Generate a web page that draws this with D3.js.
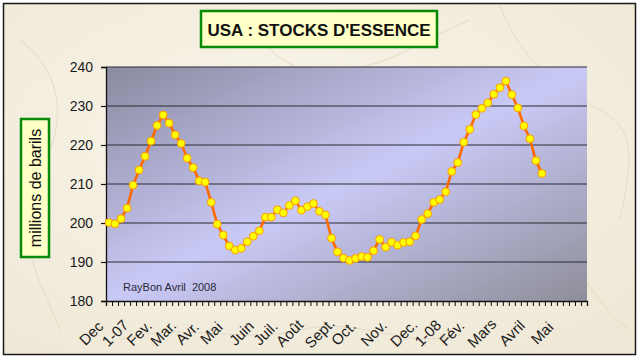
<!DOCTYPE html>
<html><head><meta charset="utf-8">
<script src="https://cdn.jsdelivr.net/npm/d3@7/dist/d3.min.js"></script>
<style>html,body{margin:0;padding:0;background:#fff}svg{display:block}</style>
</head><body>
<svg id="chart" width="640" height="360"></svg>
<script>
// ---- data ----
const title = "USA : STOCKS D'ESSENCE";
const yTitle = "millions de barils";
const note = "RayBon Avril  2008";
// weekly gasoline stocks (million barrels), one value per week category
const stocks = [
  200.1, 199.8, 201.1, 203.8, 209.7, 213.6, 217.1, 221.0, 225.0, 227.7,
  225.6, 222.6, 220.4, 216.6, 214.2, 210.8, 210.5, 205.3, 199.7, 196.9,
  194.1, 193.1, 193.5, 195.2, 196.6, 198.0, 201.5, 201.5, 203.4, 202.6,
  204.5, 205.7, 203.3, 204.2, 205.0, 203.0, 202.1, 196.1, 192.6, 191.0,
  190.4, 190.9, 191.4, 191.2, 192.9, 195.8, 193.8, 195.1, 194.3, 195.0,
  195.2, 196.7, 200.9, 202.4, 205.3, 206.0, 208.0, 213.2, 215.5, 220.7,
  224.0, 227.8, 229.4, 230.8, 233.0, 234.7, 236.4, 232.9, 229.5, 224.9,
  221.6, 216.0, 212.7
];
const monthLabels = ["Dec","1-07","Fev.","Mar.","Avr.","Mai","Juin","Juil.","Août","Sept.",
  "Oct.","Nov.","Dec.","1-08","Fév.","Mars","Avril","Mai"];
// week category that carries each month label
const monthLabelWeek = [0, 4, 8, 12, 16, 20, 25, 29, 33, 38, 42, 47, 52, 56, 60, 65, 70, 75];
const yTicks = [180, 190, 200, 210, 220, 230, 240];
const weekCount = 80;

// ---- layout ----
const svg = d3.select("#chart");
const W = 640, H = 360;
const plot = {left: 106, right: 587, top: 67, bottom: 301};
const FONT = "Liberation Sans, Arial, sans-serif";

const weeks = d3.range(weekCount);
const x = d3.scaleBand().domain(weeks).range([plot.left, plot.right]).padding(0);
const xc = k => x(k) + x.bandwidth() / 2;
const y = d3.scaleLinear().domain([180, 240]).range([plot.bottom, plot.top]);

const defs = svg.append("defs");
const bg = defs.append("radialGradient").attr("id", "marble").attr("cx", "45%").attr("cy", "40%").attr("r", "75%");
bg.append("stop").attr("offset", "0%").attr("stop-color", "#f8f5ea");
bg.append("stop").attr("offset", "100%").attr("stop-color", "#efe8d6");
const pg = defs.append("linearGradient").attr("id", "plotbg")
  .attr("x1", "0").attr("y1", "0").attr("x2", "1").attr("y2", "1");
pg.append("stop").attr("offset", "0%").attr("stop-color", "#8a8aa0");
pg.append("stop").attr("offset", "50%").attr("stop-color", "#c9c9f6");
pg.append("stop").attr("offset", "100%").attr("stop-color", "#8e8e9a");

// page background + frame
svg.append("rect").attr("x", 0).attr("y", 0).attr("width", W).attr("height", H).attr("fill", "#fff");
svg.append("rect").attr("x", 3.5).attr("y", 3.5).attr("width", 632).attr("height", 351)
  .attr("fill", "url(#marble)").attr("stroke", "#1a1a1a").attr("stroke-width", 1.5);

// faint marble veins (decorative)
const veins = [
  "M20,40 C60,70 70,120 40,170 S30,260 60,330",
  "M240,10 C270,60 300,80 350,70 S420,40 470,20",
  "M500,5 C520,60 560,90 600,110 S630,170 620,220",
  "M560,250 C590,280 600,310 630,330",
  "M120,340 C180,320 240,345 300,330 S400,350 460,335"
];
svg.append("g").selectAll("path").data(veins).join("path")
  .attr("d", d => d).attr("fill", "none").attr("stroke", "#e4dbc4").attr("stroke-width", 1);

// plot area
svg.append("rect").attr("x", plot.left).attr("y", plot.top)
  .attr("width", plot.right - plot.left).attr("height", plot.bottom - plot.top)
  .attr("fill", "url(#plotbg)");

// gridlines
svg.append("g").selectAll("line").data(yTicks.filter(v => v > 180)).join("line")
  .attr("x1", plot.left).attr("x2", plot.right)
  .attr("y1", d => y(d)).attr("y2", d => y(d))
  .attr("stroke", "#2a2a35").attr("stroke-width", 1.2);

// y axis
const yAxis = svg.append("g").attr("transform", `translate(${plot.left},0)`)
  .call(d3.axisLeft(y).tickValues(yTicks).tickSize(5).tickPadding(8));
yAxis.select(".domain").attr("stroke", "#111").attr("stroke-width", 1.3);
yAxis.selectAll(".tick line").attr("stroke", "#111").attr("stroke-width", 1.2);
yAxis.selectAll("text").attr("font-family", FONT).attr("font-size", 14).attr("fill", "#1a1a1a");

// x axis: tick marks between week categories
const edgeScale = d3.scaleLinear().domain([0, weekCount]).range([plot.left, plot.right]);
const xAxis = svg.append("g").attr("transform", `translate(0,${plot.bottom})`)
  .call(d3.axisBottom(edgeScale).tickValues(d3.range(weekCount + 1)).tickSize(5).tickFormat(""));
xAxis.select(".domain").attr("stroke", "#111").attr("stroke-width", 1.3);
xAxis.selectAll(".tick line").attr("stroke", "#111").attr("stroke-width", 1);

// month labels
svg.append("g").selectAll("text").data(monthLabels).join("text")
  .attr("transform", (d, i) => `translate(${xc(monthLabelWeek[i]) - 17},${plot.bottom + 33}) rotate(-45)`)
  .attr("text-anchor", "middle").attr("dominant-baseline", "middle")
  .attr("font-family", FONT).attr("font-size", 15)
  .attr("fill", "#1a1a1a").text(d => d);

// series line + markers
const line = d3.line().x((d, i) => xc(i)).y(d => y(d));
svg.append("path").datum(stocks).attr("d", line)
  .attr("fill", "none").attr("stroke", "#ff6a00").attr("stroke-width", 2.6)
  .attr("stroke-linejoin", "round");
svg.append("g").selectAll("circle").data(stocks).join("circle")
  .attr("cx", (d, i) => xc(i)).attr("cy", d => y(d)).attr("r", 3.9)
  .attr("fill", "#ffff00").attr("stroke", "#ff9a00").attr("stroke-width", 1);

// note
svg.append("text").attr("x", 123).attr("y", 291).style("white-space", "pre")
  .attr("font-family", FONT).attr("font-size", 11)
  .attr("fill", "#2a2a3a").text(note);

// title box
svg.append("rect").attr("x", 201).attr("y", 11).attr("width", 236).attr("height", 36)
  .attr("fill", "#ffffc8").attr("stroke", "#078a07").attr("stroke-width", 2.5);
svg.append("text").attr("x", 319).attr("y", 35.5).attr("text-anchor", "middle")
  .attr("font-family", FONT).attr("font-size", 17)
  .attr("font-weight", "bold").attr("fill", "#111").text(title);

// y title box
svg.append("rect").attr("x", 21).attr("y", 119).attr("width", 28).attr("height", 138)
  .attr("fill", "#ffffc8").attr("stroke", "#078a07").attr("stroke-width", 2.5);
svg.append("text").attr("transform", "translate(40.5,188) rotate(-90)")
  .attr("text-anchor", "middle")
  .attr("font-family", FONT).attr("font-size", 16)
  .attr("fill", "#111").text(yTitle);
</script>
</body></html>
